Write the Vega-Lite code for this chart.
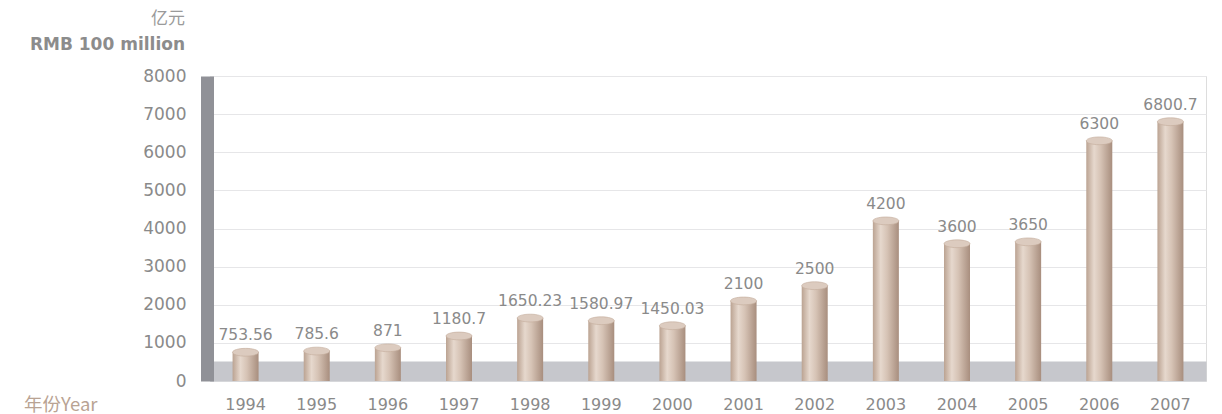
{
  "$schema": "https://vega.github.io/schema/vega-lite/v6.json",
  "width": 996,
  "height": 305,
  "autosize": {"type": "none"},
  "padding": {"left": 210, "top": 76, "right": 16, "bottom": 33},
  "background": "white",
  "title": {
    "text": "亿元",
    "subtitle": "RMB 100 million",
    "frame": "group",
    "anchor": "start",
    "align": "right",
    "dx": -25,
    "offset": 13,
    "font": "Noto Sans CJK SC",
    "fontSize": 17,
    "fontWeight": "normal",
    "color": "#9a9a9a",
    "subtitleFont": "DejaVu Sans",
    "subtitleFontSize": 17,
    "subtitleFontWeight": "bold",
    "subtitleColor": "#8c8c8c",
    "subtitlePadding": 9
  },
  "data": {
    "values": [
      {"year": "1994", "value": 753.56},
      {"year": "1995", "value": 785.6},
      {"year": "1996", "value": 871},
      {"year": "1997", "value": 1180.7},
      {"year": "1998", "value": 1650.23},
      {"year": "1999", "value": 1580.97},
      {"year": "2000", "value": 1450.03},
      {"year": "2001", "value": 2100},
      {"year": "2002", "value": 2500},
      {"year": "2003", "value": 4200},
      {"year": "2004", "value": 3600},
      {"year": "2005", "value": 3650},
      {"year": "2006", "value": 6300},
      {"year": "2007", "value": 6800.7}
    ]
  },
  "encoding": {
    "x": {
      "field": "year",
      "type": "ordinal",
      "sort": null,
      "axis": {
        "orient": "bottom",
        "offset": -10,
        "domain": true,
        "domainColor": "#c6c7cc",
        "domainWidth": 20,
        "ticks": false,
        "grid": false,
        "labelAngle": 0,
        "labelPadding": 25,
        "labelFont": "DejaVu Sans",
        "labelFontSize": 16,
        "labelColor": "#8a8a8a",
        "title": "年份Year",
        "titleFont": "Noto Sans CJK SC",
        "titleFontSize": 18.5,
        "titleFontWeight": "normal",
        "titleColor": "#b9a393",
        "titleX": -113,
        "titleY": 33,
        "titleAlign": "right",
        "titleBaseline": "middle",
        "titleAngle": 0
      }
    },
    "y": {
      "field": "value",
      "type": "quantitative",
      "scale": {"domain": [0, 8000], "nice": false},
      "axis": {
        "values": [0, 1000, 2000, 3000, 4000, 5000, 6000, 7000, 8000],
        "format": "d",
        "offset": 3,
        "domain": true,
        "domainColor": "#909197",
        "domainWidth": 13,
        "ticks": false,
        "grid": true,
        "gridColor": "#e6e6e8",
        "gridWidth": 1.2,
        "labelPadding": 21,
        "labelFont": "DejaVu Sans",
        "labelFontSize": 17,
        "labelColor": "#8a8a8a",
        "title": null
      }
    }
  },
  "layer": [
    {
      "mark": {
        "type": "bar",
        "size": 26,
        "color": {
          "gradient": "linear",
          "x1": 0, "y1": 0, "x2": 1, "y2": 0,
          "stops": [
            {"offset": 0, "color": "#bba392"},
            {"offset": 0.3, "color": "#e6d8cd"},
            {"offset": 0.55, "color": "#d6c3b5"},
            {"offset": 1, "color": "#a88e7e"}
          ]
        }
      }
    },
    {
      "mark": {
        "type": "point",
        "shape": "M-1,0A1,0.3,0,1,0,1,0A1,0.3,0,1,0,-1,0Z",
        "size": 676,
        "filled": true,
        "opacity": 1,
        "fill": "#dccbbf",
        "stroke": "#c2ab9b",
        "strokeWidth": 0.6
      }
    },
    {
      "mark": {
        "type": "text",
        "baseline": "bottom",
        "dy": -9,
        "font": "DejaVu Sans",
        "fontSize": 15.5,
        "color": "#8a8a8a"
      },
      "encoding": {
        "text": {"field": "value", "type": "quantitative", "format": ".12~g"}
      }
    }
  ]
}
